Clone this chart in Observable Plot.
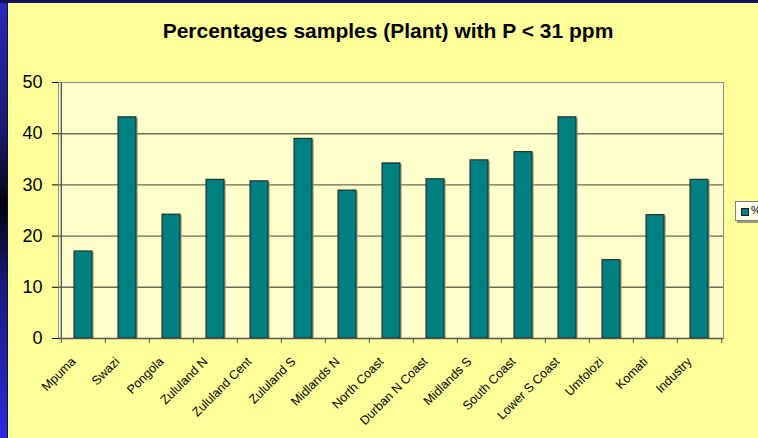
<!DOCTYPE html>
<html>
<head>
<meta charset="utf-8">
<script src="https://cdn.jsdelivr.net/npm/d3@7"></script>
<script src="https://cdn.jsdelivr.net/npm/@observablehq/plot@0.6"></script>
<style>
  html, body { margin: 0; padding: 0; background: #FFFF99; }
  #wrap { position: relative; width: 758px; height: 438px; overflow: hidden; background: #FFFF99; font-family: "Liberation Sans", Arial, sans-serif; }
  #strip { position: absolute; left: 0; top: 0; width: 7px; height: 438px;
    background: linear-gradient(to bottom, #2a2ac0 0%, #1a1a70 30%, #03030f 47%, #1a1a80 65%, #2c2ce0 100%); }
  #edge { position: absolute; left: 7px; top: 0; width: 1px; height: 438px; background: #101030; }
  #topband { position: absolute; left: 0; top: 0; width: 758px; height: 3px; background: #14145a; }
  #title { position: absolute; left: 0; top: 19px; width: 776px; text-align: center; font-weight: bold; font-size: 21px; color: #000; }
  #legend { position: absolute; left: 735px; top: 201px; width: 40px; height: 18px; background: #FFFFF0; border: 1px solid #808080; box-shadow: 2px 2px 0 #9c9c80; font-size: 11px; }
  #legend .sw { position: absolute; left: 5px; top: 6px; width: 6px; height: 6px; background: #008080; border: 1px solid #1c1c1c; }
  #legend .lb { position: absolute; left: 15px; top: 2px; }
  svg { position: absolute; left: 0; top: 0; }
</style>
</head>
<body>
<div id="wrap">
  <div id="strip"></div>
  <div id="edge"></div>
  <div id="topband"></div>
  <div id="title"></div>
  <div id="legend"><div class="sw"></div><div class="lb"></div></div>
</div>
<script>
const chartTitle = "Percentages samples (Plant) with P < 31 ppm";
const seriesName = "%";
const categories = ["Mpuma","Swazi","Pongola","Zululand N","Zululand Cent","Zululand S","Midlands N","North Coast","Durban N Coast","Midlands S","South Coast","Lower S Coast","Umfolozi","Komati","Industry"];
const values = [17.0, 43.2, 24.2, 31.0, 30.7, 39.0, 28.9, 34.2, 31.1, 34.8, 36.4, 43.2, 15.3, 24.1, 31.0];
const yTicks = [0, 10, 20, 30, 40, 50];
const gridTicks = [10, 20, 30, 40];

document.getElementById("title").textContent = chartTitle;
document.querySelector("#legend .lb").textContent = seriesName;

const data = categories.map((c, i) => ({category: c, value: values[i]}));

const W = 758, H = 438, mL = 58, mR = 35, mT = 82, mB = 100;
const step = (W - mL - mR) / categories.length;
const inset = 13;

const chart = Plot.plot({
  width: W, height: H,
  marginLeft: mL, marginRight: mR, marginTop: mT, marginBottom: mB,
  style: {background: "transparent", fontFamily: "Liberation Sans, Arial, sans-serif", fontSize: "18px", color: "#000", overflow: "visible"},
  x: {domain: categories, padding: 0, axis: null},
  y: {domain: [0, 50], ticks: yTicks, tickSize: 6, tickPadding: 10, label: null},
  marks: [
    Plot.frame({fill: "#FFFFCC", stroke: "#8c8c8c"}),
    Plot.ruleY(gridTicks, {stroke: "#6b6b55", strokeWidth: 1.4}),
    Plot.barY(data, {x: "category", y: "value", fill: "#a0a080", fillOpacity: 0.7, dx: 2, dy: 1, insetLeft: inset, insetRight: inset}),
    Plot.barY(data, {x: "category", y: "value", fill: "#008080", stroke: "#1c1c1c", strokeWidth: 1, insetLeft: inset, insetRight: inset}),
    Plot.ruleY([0], {stroke: "#555", strokeWidth: 1.4}),
    Plot.ruleX([categories[0]], {x: d => d, dx: -step / 2, stroke: "#555", strokeWidth: 1.4}),
    Plot.ruleX(categories, {x: d => d, dx: -step / 2, y1: 0, y2: 0, insetBottom: -5, stroke: "#555"}),
    Plot.ruleX([categories[categories.length - 1]], {x: d => d, dx: step / 2, y1: 0, y2: 0, insetBottom: -5, stroke: "#555"}),
    Plot.text(categories, {x: d => d, y: 0, text: d => d, rotate: -45, textAnchor: "end", lineAnchor: "middle", dx: -10, dy: 21, fontSize: 12.5, fill: "#000"})
  ]
});
document.getElementById("wrap").appendChild(chart);
</script>
</body>
</html>
